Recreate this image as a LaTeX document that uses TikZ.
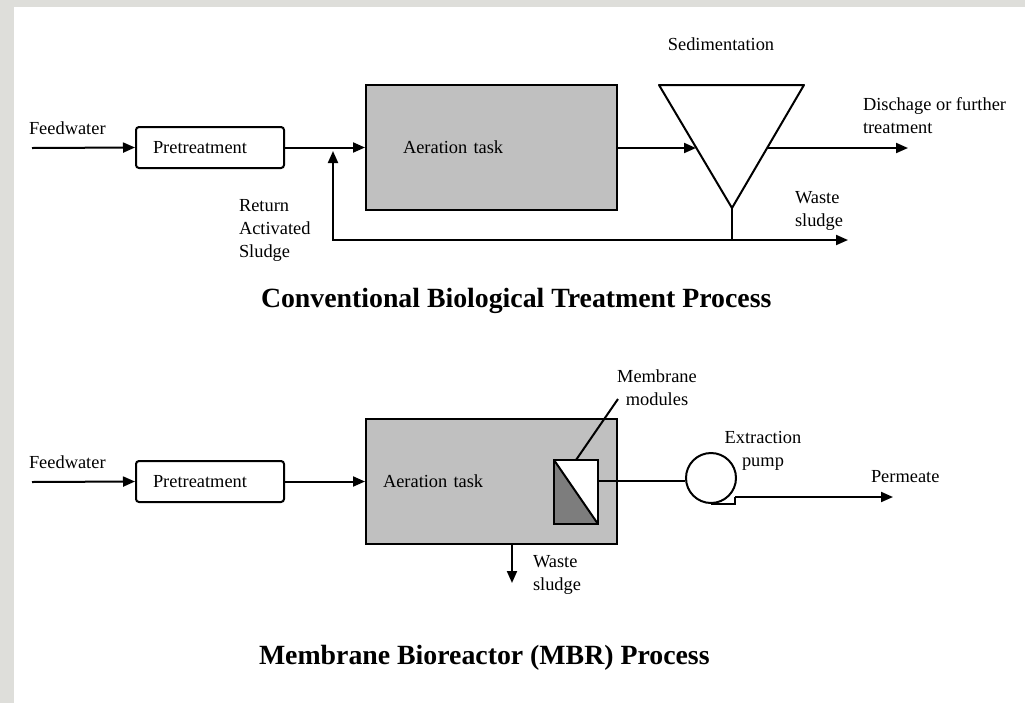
\documentclass[tikz,border=0pt]{standalone}
\usepackage{fontspec}
\setmainfont{Liberation Serif}
\usetikzlibrary{arrows.meta,positioning,calc}

\definecolor{framegray}{RGB}{222,222,218}
\definecolor{tankgray}{RGB}{192,192,192}
\definecolor{membgray}{RGB}{125,125,125}

\begin{document}
\begin{tikzpicture}[x=0.5pt,y=-0.5pt, line width=1pt,
    >={Triangle[length=6pt,width=5pt]},
    lbl/.style={font=\fontsize{9.2}{11.5}\selectfont, inner sep=0pt},
    ttl/.style={font=\fontsize{13.9}{16}\selectfont\bfseries, inner sep=0pt},
    prebox/.style={draw, fill=white, rounded corners=1.5pt, minimum height=20.5pt,
        text width=57pt, inner xsep=8.5pt, inner ysep=0pt, align=left,
        font=\fontsize{9.2}{11.5}\selectfont},
    tankbox/.style={draw, fill=tankgray, minimum height=62.5pt, inner ysep=0pt,
        align=left, font=\fontsize{9.2}{11.5}\selectfont},
]

% frame
\fill[framegray] (0,0) rectangle (1025,703);
\fill[white] (14,7) rectangle (1025,703);

%%% conventional process
\node[lbl, anchor=base west] (feedA) at (28,134) {Feedwater};
\coordinate (feedAin) at (32,148);
\node[prebox] (preA) at (210,147.5) {Pretreatment};
\node[tankbox, text width=88.5pt, inner xsep=18.5pt] (tankA) at (491.5,147.5) {Aeration task};

\coordinate (sedTL) at (659,85);
\coordinate (sedTR) at (804,85);
\coordinate (sedB) at (732,208);
\coordinate (sedIn) at (696,148);
\coordinate (sedOut) at (767,148);
\filldraw[fill=white, line join=round] (sedTL) -- (sedTR) -- (sedB) -- cycle;
\node[lbl, anchor=base] (sedLbl) at (721,50) {Sedimentation};

% multi-line labels: base is the last line
\coordinate (dischEnd) at (908,148);
\node[lbl, anchor=base west, align=left] (dischLbl) at (862,133) {Dischage or further\\treatment};

\coordinate (retTip) at (333,151);
\coordinate (retCorner) at (333,240);
\coordinate (wasteAEnd) at (848,240);
\node[lbl, anchor=base west, align=left] (retLbl) at (238,257) {Return\\Activated\\Sludge};
\node[lbl, anchor=base west, align=left] (wasteALbl) at (794,226) {Waste\\sludge};

\draw[->] (feedAin) -- (preA.west);
\draw[->] (preA.east) -- (tankA.west);
\draw[->] (tankA.east |- sedIn) -- (sedIn);
\draw[->] (sedOut) -- (dischEnd);
\draw (sedB) -- (sedB |- retCorner);
\draw[<->] (retTip) -- (retCorner) -- (wasteAEnd);

\node[ttl, anchor=base west] (ttlA) at (260,307) {Conventional Biological Treatment Process};

%%% MBR process
\node[lbl, anchor=base west] (feedB) at (28,468) {Feedwater};
\coordinate (feedBin) at (32,482);
\node[prebox] (preB) at (210,481.5) {Pretreatment};
\node[tankbox, text width=108.5pt, inner xsep=8.5pt] (tankB) at (491.5,481.5) {Aeration task};

\node[fill=white, minimum width=21pt, minimum height=31pt, inner sep=0pt] (memb) at (576,492) {};
\fill[membgray] (memb.north west) -- (memb.south east) -- (memb.south west) -- cycle;
\draw (memb.north west) -- (memb.south east);
\draw (memb.north west) rectangle (memb.south east);
\node[lbl, anchor=base, align=center] (membLbl) at (657,405) {Membrane\\modules};
\coordinate (membTip) at (618,399);
\draw (memb.north) -- (membTip);

\node[draw, fill=white, circle, minimum size=25pt, inner sep=0pt] (pump) at (711,478) {};
\node[lbl, anchor=base, align=center] (pumpLbl) at (763,466) {Extraction\\pump};
\coordinate (membOut) at (597,481);
\coordinate (pumpOut) at (735,497);
\coordinate (permEnd) at (893,497);
\node[lbl, anchor=base west] (permLbl) at (870,482) {Permeate};

\draw[->] (feedBin) -- (preB.west);
\draw[->] (preB.east) -- (tankB.west);
\draw (membOut) -- (membOut -| pump.west);
\draw (pump.south) -- (pump.south -| pumpOut) -- (pumpOut);
\draw[->] (pumpOut) -- (permEnd);

\coordinate (wasteBEnd) at (512,583);
\draw[->] (wasteBEnd |- tankB.south) -- (wasteBEnd);
\node[lbl, anchor=base west, align=left] (wasteBLbl) at (532,590) {Waste\\sludge};

\node[ttl, anchor=base west] (ttlB) at (258,664) {Membrane Bioreactor (MBR) Process};

\end{tikzpicture}
\end{document}
